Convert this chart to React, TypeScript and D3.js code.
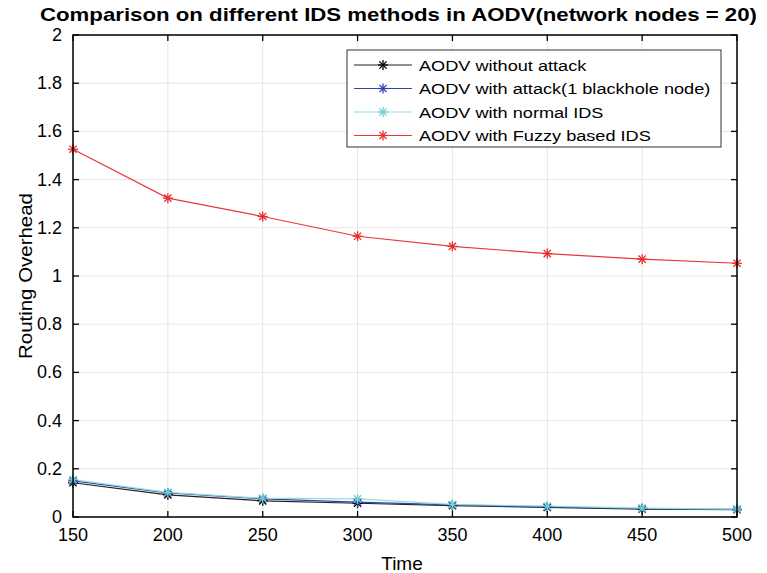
import { useEffect, useRef } from "react";
import * as d3 from "d3";

const times = [150, 200, 250, 300, 350, 400, 450, 500];
const withoutAttack = [0.142, 0.092, 0.067, 0.057, 0.047, 0.04, 0.033, 0.03];
const withAttack = [0.15, 0.1, 0.075, 0.062, 0.05, 0.042, 0.035, 0.032];
const normalIDS = [0.155, 0.102, 0.078, 0.075, 0.052, 0.045, 0.037, 0.033];
const fuzzyIDS = [1.526, 1.323, 1.247, 1.165, 1.123, 1.093, 1.07, 1.053];
const seriesNames = [
  "AODV without attack",
  "AODV with attack(1 blackhole node)",
  "AODV with normal IDS",
  "AODV with Fuzzy based IDS",
];
const lineColors = ["#222222", "#3246a8", "#8fdede", "#e8383a"];
const markColors = ["#000000", "#2f3fb0", "#6fcfd3", "#e82a2a"];
const yTicks = [0, 0.2, 0.4, 0.6, 0.8, 1, 1.2, 1.4, 1.6, 1.8, 2];

const App = () => {
  const ref = useRef<SVGSVGElement>(null);

  useEffect(() => {
    const svg = d3.select(ref.current);
    svg.selectAll("*").remove();
    const W = 767, H = 573;
    const margin = { top: 35, right: 30, bottom: 56, left: 73 };
    const width = W - margin.left - margin.right;
    const height = H - margin.top - margin.bottom;
    const font = "Arial, 'Liberation Sans', sans-serif";

    svg.append("rect").attr("width", W).attr("height", H).attr("fill", "#fff");

    const x = d3.scaleLinear().domain([150, 500]).range([0, width]);
    const y = d3.scaleLinear().domain([0, 2]).range([height, 0]);

    const g = svg.append("g").attr("transform", `translate(${margin.left},${margin.top})`);

    // grid
    g.selectAll(".gx").data(times).enter().append("line")
      .attr("x1", (d) => x(d)).attr("x2", (d) => x(d))
      .attr("y1", 0).attr("y2", height)
      .attr("stroke", "#e6e6e6").attr("stroke-width", 1);
    g.selectAll(".gy").data(yTicks).enter().append("line")
      .attr("y1", (d) => y(d)).attr("y2", (d) => y(d))
      .attr("x1", 0).attr("x2", width)
      .attr("stroke", "#e6e6e6").attr("stroke-width", 1);

    // series
    const all = [withoutAttack, withAttack, normalIDS, fuzzyIDS];
    const line = d3.line<number>().x((_, i) => x(times[i])).y((d) => y(d));
    const star = (sel: any, cx: number, cy: number, color: string) => {
      const r = 5;
      const s = r * 0.72;
      const segs = [
        [-r, 0, r, 0], [0, -r, 0, r], [-s, -s, s, s], [-s, s, s, -s],
      ];
      segs.forEach((p) => {
        sel.append("line")
          .attr("x1", cx + p[0]).attr("y1", cy + p[1])
          .attr("x2", cx + p[2]).attr("y2", cy + p[3])
          .attr("stroke", color).attr("stroke-width", 1.3);
      });
    };
    all.forEach((vals, k) => {
      g.append("path").datum(vals).attr("d", line)
        .attr("fill", "none").attr("stroke", lineColors[k]).attr("stroke-width", 1.2);
    });
    all.forEach((vals, k) => {
      const mg = g.append("g");
      vals.forEach((v, i) => star(mg, x(times[i]), y(v), markColors[k]));
    });

    // box + ticks
    g.append("rect").attr("width", width).attr("height", height)
      .attr("fill", "none").attr("stroke", "#000").attr("stroke-width", 1.5);
    const tl = 6;
    times.forEach((t) => {
      g.append("line").attr("x1", x(t)).attr("x2", x(t)).attr("y1", height).attr("y2", height - tl).attr("stroke", "#000").attr("stroke-width", 1.3);
      g.append("line").attr("x1", x(t)).attr("x2", x(t)).attr("y1", 0).attr("y2", tl).attr("stroke", "#000").attr("stroke-width", 1.3);
      g.append("text").attr("x", x(t)).attr("y", height + 24)
        .attr("text-anchor", "middle").attr("font-family", font).attr("font-size", 18).text(t);
    });
    yTicks.forEach((t) => {
      g.append("line").attr("y1", y(t)).attr("y2", y(t)).attr("x1", 0).attr("x2", tl).attr("stroke", "#000").attr("stroke-width", 1.3);
      g.append("line").attr("y1", y(t)).attr("y2", y(t)).attr("x1", width).attr("x2", width - tl).attr("stroke", "#000").attr("stroke-width", 1.3);
      g.append("text").attr("x", -11).attr("y", y(t) + 6)
        .attr("text-anchor", "end").attr("font-family", font).attr("font-size", 18).text(d3.format("~g")(t));
    });

    // labels
    svg.append("text").attr("x", 402).attr("y", 570)
      .attr("text-anchor", "middle").attr("font-family", font).attr("font-size", 19).text("Time");
    svg.append("text").attr("transform", `translate(32,${margin.top + height / 2}) rotate(-90)`)
      .attr("text-anchor", "middle").attr("font-family", font).attr("font-size", 18)
      .attr("textLength", 166).attr("lengthAdjust", "spacingAndGlyphs")
      .text("Routing Overhead");
    svg.append("text").attr("x", 40).attr("y", 21)
      .attr("font-family", font).attr("font-weight", "bold").attr("font-size", 18.5)
      .attr("textLength", 717).attr("lengthAdjust", "spacingAndGlyphs")
      .text("Comparison on different IDS methods in AODV(network nodes = 20)");

    // legend
    const lg = svg.append("g").attr("transform", "translate(347,50)");
    lg.append("rect").attr("width", 374).attr("height", 97)
      .attr("fill", "#fff").attr("stroke", "#333").attr("stroke-width", 1);
    seriesNames.forEach((name, k) => {
      const ly = 15 + k * 23.5;
      lg.append("line").attr("x1", 7).attr("x2", 65).attr("y1", ly).attr("y2", ly)
        .attr("stroke", lineColors[k]).attr("stroke-width", 1.2);
      star(lg, 36, ly, markColors[k]);
      const t = lg.append("text").attr("x", 72).attr("y", ly + 5.5)
        .attr("font-family", font).attr("font-size", 15.5).text(name);
      const node = t.node() as SVGTextElement | null;
      if (node) {
        const w = node.getComputedTextLength();
        t.attr("textLength", w * 1.17).attr("lengthAdjust", "spacingAndGlyphs");
      }
    });
  }, []);

  return <svg ref={ref} width={767} height={573} style={{ position: "absolute", left: 0, top: 0 }} />;
};

export default App;
